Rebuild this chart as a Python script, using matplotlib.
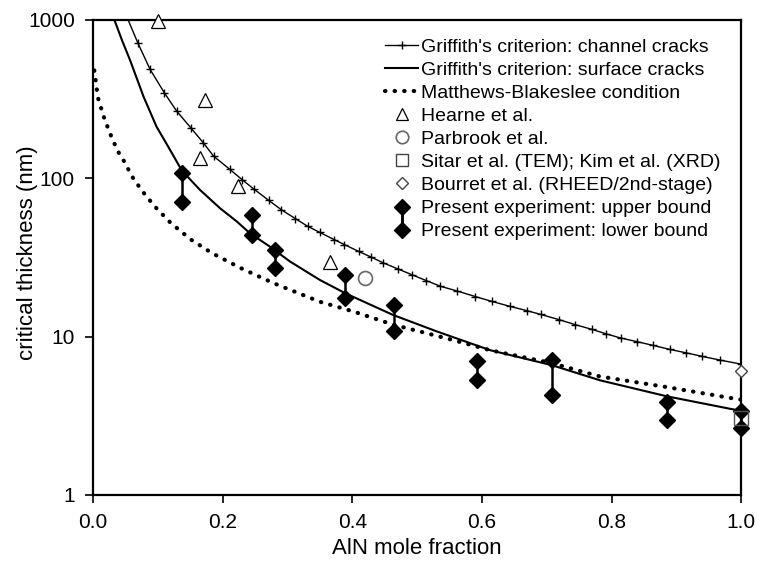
import matplotlib
matplotlib.use("Agg")
import matplotlib.pyplot as plt
from matplotlib.lines import Line2D
from matplotlib.legend_handler import HandlerBase
from matplotlib.ticker import NullLocator

plt.rcParams["font.family"] = ["Liberation Sans", "DejaVu Sans"]

# ── data ──
chan_x = [0.050, 0.069, 0.088, 0.110, 0.129, 0.151, 0.170, 0.186, 0.211, 0.230,
          0.249, 0.271, 0.290, 0.312, 0.331, 0.350, 0.372, 0.388, 0.410, 0.429,
          0.448, 0.470, 0.492, 0.514, 0.536, 0.562, 0.590, 0.615, 0.644, 0.669,
          0.691, 0.719, 0.744, 0.770, 0.792, 0.814, 0.839, 0.864, 0.890, 0.915,
          0.940, 0.968, 1.000]
chan_y = [1100, 719, 488, 347, 266, 208, 168, 138, 114, 98,
          85, 72.6, 63.5, 55.7, 49.8, 45.5, 41, 38.1, 34.5, 31.8,
          29.2, 26.8, 24.6, 22.6, 20.8, 19.4, 17.9, 16.7, 15.5, 14.6,
          13.8, 12.8, 11.9, 11.1, 10.4, 9.8, 9.3, 8.8, 8.3, 7.9,
          7.5, 7.1, 6.7]

surf_x = [0.030, 0.045, 0.057, 0.078, 0.098, 0.119, 0.137, 0.165, 0.196, 0.222,
          0.242, 0.273, 0.304, 0.350, 0.389, 0.463, 0.530, 0.613, 0.708, 0.782,
          0.885, 0.983, 1.000]
surf_y = [1080, 740, 560, 328, 212, 151, 112, 84.5, 64.7, 53.3,
          45, 37, 29.8, 22.8, 18.8, 13.7, 10.8, 8.2, 6.6, 5.3,
          4.2, 3.5, 3.4]

mb_x = [0.002, 0.0076, 0.018, 0.028, 0.038, 0.049, 0.060, 0.076, 0.095, 0.120,
        0.151, 0.183, 0.227, 0.278, 0.350, 0.402, 0.463, 0.556, 0.613, 0.708,
        0.782, 0.885, 0.983, 1.000]
mb_y = [480, 323, 235, 185, 149, 126, 103, 83, 66.6, 52.2,
        41, 33.8, 27.2, 21.8, 16.6, 14.4, 11.9, 9.5, 8.2, 6.8,
        5.6, 4.8, 4.1, 4.0]

hearne_x = [0.101, 0.165, 0.173, 0.224, 0.366]
hearne_y = [980, 134, 310, 89.6, 29.8]
parbrook_x = [0.420]
parbrook_y = [23.4]
sitar_x = [1.0]
sitar_y = [3.05]
bourret_x = [1.0]
bourret_y = [6.1]

exp_x = [0.137, 0.245, 0.281, 0.389, 0.465, 0.593, 0.708, 0.885, 1.0]
exp_upper = [108, 58.7, 35.3, 24.5, 15.9, 7.0, 7.1, 3.88, 3.4]
exp_lower = [71.3, 43.9, 27.1, 17.5, 10.8, 5.3, 4.3, 2.98, 2.65]

labels = [
    "Griffith's criterion: channel cracks",
    "Griffith's criterion: surface cracks",
    "Matthews-Blakeslee condition",
    "Hearne et al.",
    "Parbrook et al.",
    "Sitar et al. (TEM); Kim et al. (XRD)",
    "Bourret et al. (RHEED/2nd-stage)",
    "Present experiment: upper bound",
    "Present experiment: lower bound",
]

MB_STYLE = dict(color="black", lw=3.0, ls=(0, (0.1, 2.2)), dash_capstyle="round")


class BoundHandler(HandlerBase):
    # diamond + half of the vertical bar joining the two legend rows
    def __init__(self, direction):
        super().__init__()
        self.direction = direction

    def create_artists(self, legend, orig_handle, xdescent, ydescent,
                       width, height, fontsize, trans):
        cx = (width - xdescent) / 2
        cy = (height - ydescent) / 2
        pitch = fontsize * (1.15 + legend.labelspacing)
        end = cy - 0.6 * pitch if self.direction == "down" else cy + 0.6 * pitch
        bar = Line2D([cx, cx], [cy, end], color="black", lw=1.8, transform=trans)
        mk = Line2D([cx], [cy], marker="D", ms=8, color="black", ls="none",
                    transform=trans)
        return [bar, mk]


fig = plt.figure(figsize=(7.59, 5.65), dpi=100)
ax = fig.add_axes([0.1225, 0.124, 0.854, 0.8407])

ax.plot(mb_x, mb_y, **MB_STYLE)
ax.plot(surf_x, surf_y, color="black", lw=1.5)
ax.plot(chan_x, chan_y, color="black", lw=1.0, marker="+", ms=6, mew=1.0)

for x, lo, hi in zip(exp_x, exp_lower, exp_upper):
    ax.plot([x, x], [lo, hi], color="black", lw=1.8, zorder=3, clip_on=False)
ax.plot(exp_x, exp_upper, ls="none", marker="D", ms=8, color="black", zorder=4,
        clip_on=False)
ax.plot(exp_x, exp_lower, ls="none", marker="D", ms=8, color="black", zorder=4,
        clip_on=False)

ax.plot(hearne_x, hearne_y, ls="none", marker="^", ms=10, mfc="white",
        mec="black", mew=0.9, clip_on=False, zorder=5)
ax.plot(parbrook_x, parbrook_y, ls="none", marker="o", ms=10, mfc="white",
        mec="#666666", mew=1.2, zorder=5)
ax.plot(sitar_x, sitar_y, ls="none", marker="s", ms=10, mfc="none",
        mec="#555555", mew=1.0, clip_on=False, zorder=5)
ax.plot(bourret_x, bourret_y, ls="none", marker="D", ms=6, mfc="white",
        mec="#444444", mew=1.0, clip_on=False, zorder=5)

ax.set_yscale("log")
ax.set_xlim(0, 1.0)
ax.set_ylim(1, 1000)
ax.set_yticks([1, 10, 100, 1000])
ax.set_yticklabels(["1", "10", "100", "1000"])
ax.yaxis.set_minor_locator(NullLocator())
ax.set_xticks([0, 0.2, 0.4, 0.6, 0.8, 1.0])
ax.set_xticklabels(["0.0", "0.2", "0.4", "0.6", "0.8", "1.0"])
ax.tick_params(direction="out", length=6, width=1.2, labelsize=15, pad=7)
for s in ax.spines.values():
    s.set_linewidth(1.6)

ax.set_xlabel("AlN mole fraction", fontsize=16, labelpad=4)
ax.set_ylabel("critical thickness (nm)", fontsize=16)
ax.yaxis.set_label_coords(-0.085, 0.51)

# ── legend ──
h_up = Line2D([], [], color="black")
h_lo = Line2D([], [], color="black")
handles = [
    Line2D([], [], color="black", lw=1.0, marker="+", ms=6, mew=1.0),
    Line2D([], [], color="black", lw=1.5),
    Line2D([], [], **MB_STYLE),
    Line2D([], [], ls="none", marker="^", ms=9, mfc="white", mec="black", mew=0.9),
    Line2D([], [], ls="none", marker="o", ms=9, mfc="white", mec="#666666", mew=1.2),
    Line2D([], [], ls="none", marker="s", ms=8, mfc="white", mec="#444444", mew=1.0),
    Line2D([], [], ls="none", marker="D", ms=6, mfc="white", mec="#444444", mew=1.0),
    h_up,
    h_lo,
]
ax.legend(handles, labels, loc="upper left", bbox_to_anchor=(0.43, 0.99),
          frameon=False, fontsize=14, handlelength=1.7, handletextpad=0.15,
          labelspacing=0.28, borderpad=0.2, numpoints=1,
          handler_map={h_up: BoundHandler("down"), h_lo: BoundHandler("up")})

fig.savefig("out.png", dpi=100)
